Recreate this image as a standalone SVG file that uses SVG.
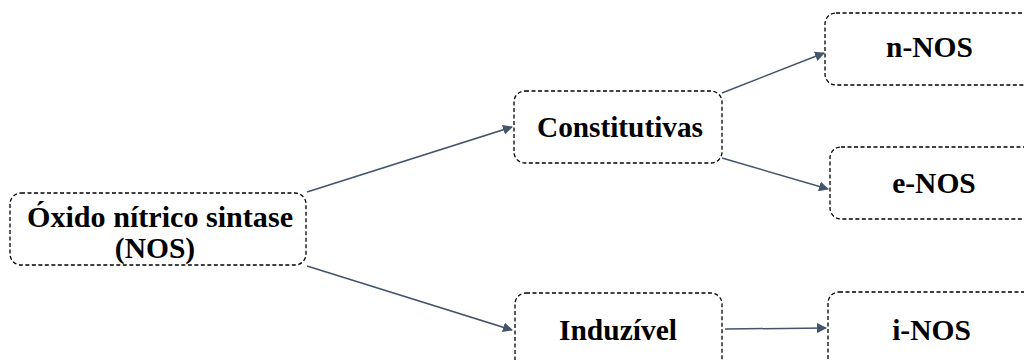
<svg xmlns="http://www.w3.org/2000/svg" width="1024" height="360" viewBox="0 0 1024 360">
<style>
.box{fill:#fff;stroke:#000;stroke-width:1.3;stroke-dasharray:4 2.5}
.t{font-family:"Liberation Serif","Times New Roman",serif;font-weight:bold;font-size:29.5px;fill:#000;text-anchor:middle}
.c{stroke:#44546A;stroke-width:1.5;fill:none;marker-end:url(#ah)}
</style>
<defs>
<marker id="ah" viewBox="0 0 10 10" refX="9" refY="5" markerWidth="10" markerHeight="10" markerUnits="userSpaceOnUse" orient="auto">
<path d="M0,0 L10,5 L0,10 z" fill="#44546A"/>
</marker>
</defs>
<rect width="1024" height="360" fill="#fff"/>
<g id="connectors">
<line class="c" x1="307" y1="192" x2="512" y2="127"/>
<line class="c" x1="307" y1="266" x2="512" y2="330"/>
<line class="c" x1="722" y1="93" x2="824" y2="53"/>
<line class="c" x1="722" y1="158" x2="828" y2="189"/>
<line class="c" x1="725" y1="329" x2="826" y2="328"/>
</g>
<g id="nos">
<rect class="box" x="10" y="193" width="296" height="72" rx="11"/>
<text class="t" x="160" y="227" textLength="266" lengthAdjust="spacingAndGlyphs">Óxido nítrico sintase</text>
<text class="t" x="155" y="258">(NOS)</text>
</g>
<g id="constitutivas">
<rect class="box" x="514" y="91" width="208" height="72" rx="11"/>
<text class="t" x="620" y="137" textLength="166" lengthAdjust="spacingAndGlyphs">Constitutivas</text>
</g>
<g id="induzivel">
<rect class="box" x="515" y="293" width="207" height="80" rx="11"/>
<text class="t" x="618" y="340">Induzível</text>
</g>
<g id="n-nos">
<rect class="box" x="825" y="13" width="210" height="72" rx="11"/>
<text class="t" x="929.5" y="57">n-NOS</text>
</g>
<g id="e-nos">
<rect class="box" x="830" y="147" width="210" height="72" rx="11"/>
<text class="t" x="934" y="193">e-NOS</text>
</g>
<g id="i-nos">
<rect class="box" x="828" y="292" width="210" height="80" rx="11"/>
<text class="t" x="931.5" y="340">i-NOS</text>
</g>
</svg>
